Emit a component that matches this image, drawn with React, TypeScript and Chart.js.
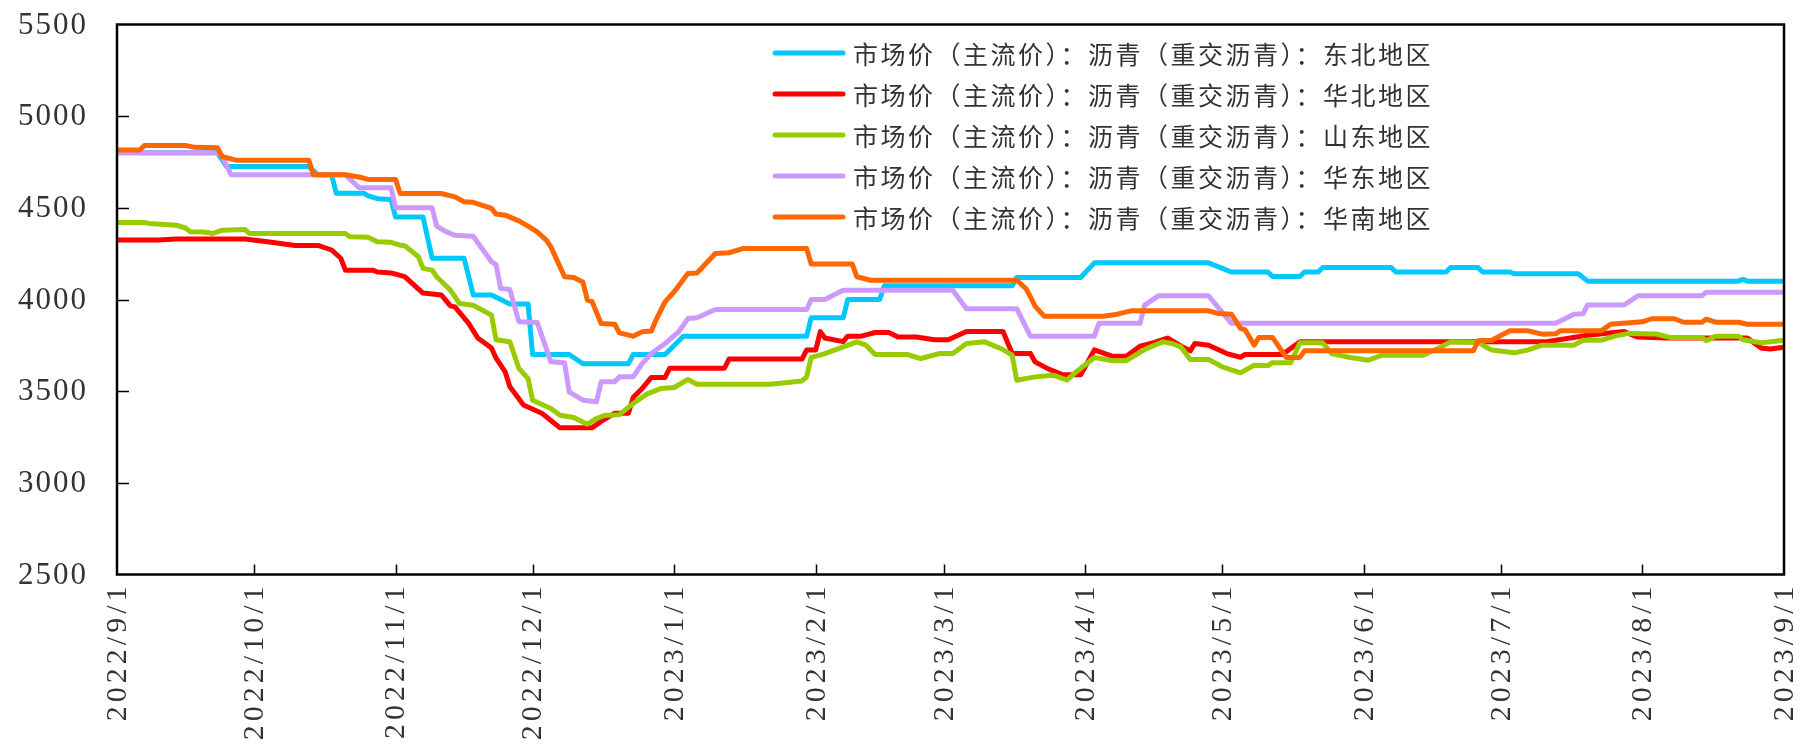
import React, { useEffect, useRef } from "react";
import { Chart, registerables } from "chart.js";

Chart.register(...registerables);

// x values are days since 2022/9/1, y values are prices (元/吨)
const START_DATE = "2022/9/1";

const monthTickLabels = [
  "2022/9/1", "2022/10/1", "2022/11/1", "2022/12/1", "2023/1/1", "2023/2/1",
  "2023/3/1", "2023/4/1", "2023/5/1", "2023/6/1", "2023/7/1", "2023/8/1", "2023/9/1",
];

const yTickValues = [2500, 3000, 3500, 4000, 4500, 5000, 5500];

const seriesNames = [
  "市场价（主流价）：沥青（重交沥青）：东北地区",
  "市场价（主流价）：沥青（重交沥青）：华北地区",
  "市场价（主流价）：沥青（重交沥青）：山东地区",
  "市场价（主流价）：沥青（重交沥青）：华东地区",
  "市场价（主流价）：沥青（重交沥青）：华南地区",
];

const seriesColors = ["#00C8FA", "#FF0000", "#99CC00", "#CC99FF", "#FF6600"];

const dongbei: [number, number][] = [
  [0, 4800], [22, 4800], [24, 4725], [42, 4725], [44, 4680], [47, 4680], [48, 4580], [54, 4580],
  [55, 4565], [57, 4550], [60, 4545], [61, 4450], [67, 4450], [69, 4225], [76, 4225], [78, 4025],
  [82, 4025], [86, 3975], [90, 3975], [91, 3700], [99, 3700], [102, 3650], [112, 3650], [113, 3700],
  [120, 3700], [124, 3800], [151, 3800], [152, 3900], [159, 3900], [160, 4000], [167, 4000],
  [168, 4075], [196, 4075], [197, 4120], [211, 4120], [214, 4200], [239, 4200], [244, 4150],
  [252, 4150], [253, 4125], [259, 4125], [260, 4150], [263, 4150], [264, 4175], [279, 4175],
  [280, 4150], [291, 4150], [292, 4175], [298, 4175], [299, 4150], [305, 4150], [306, 4140],
  [320, 4140], [322, 4100], [355, 4100], [356, 4110], [357, 4100], [365, 4100],
];

const huabei: [number, number][] = [
  [0, 4325], [9, 4325], [13, 4330], [28, 4330], [33, 4315], [39, 4295], [44, 4295], [47, 4270],
  [49, 4225], [50, 4160], [56, 4160], [57, 4150], [60, 4145], [63, 4125], [65, 4080], [67, 4035],
  [71, 4025], [73, 3965], [74, 3960], [77, 3870], [79, 3790], [82, 3735], [83, 3680], [85, 3605],
  [86, 3525], [89, 3425], [93, 3380], [95, 3340], [97, 3300], [104, 3300], [106, 3335], [109, 3380],
  [112, 3380], [113, 3465], [115, 3515], [117, 3575], [120, 3575], [121, 3625], [133, 3625],
  [134, 3675], [150, 3675], [151, 3725], [153, 3725], [154, 3825], [155, 3790], [159, 3770],
  [160, 3800], [163, 3800], [166, 3820], [169, 3820], [171, 3795], [175, 3795], [179, 3780],
  [182, 3780], [186, 3825], [194, 3825], [196, 3705], [200, 3705], [201, 3660], [204, 3620],
  [207, 3590], [211, 3590], [214, 3725], [218, 3690], [221, 3690], [224, 3745], [227, 3765],
  [230, 3790], [233, 3745], [235, 3720], [236, 3760], [239, 3750], [243, 3705], [246, 3685],
  [247, 3700], [255, 3700], [256, 3715], [259, 3770], [313, 3770], [322, 3805], [330, 3825],
  [333, 3795], [339, 3790], [357, 3790], [360, 3735], [362, 3730], [365, 3740],
];

const shandong: [number, number][] = [
  [0, 4420], [6, 4420], [7, 4415], [13, 4405], [15, 4390], [16, 4370], [19, 4368], [21, 4360],
  [23, 4378], [28, 4382], [29, 4360], [50, 4360], [51, 4342], [55, 4340], [57, 4315], [60, 4312],
  [62, 4296], [63, 4293], [66, 4233], [67, 4170], [69, 4160], [70, 4124], [73, 4051], [75, 3978],
  [78, 3969], [82, 3915], [83, 3780], [86, 3770], [88, 3624], [90, 3569], [91, 3451], [95, 3405],
  [97, 3369], [100, 3356], [103, 3320], [105, 3351], [107, 3369], [110, 3372], [113, 3433],
  [116, 3484], [119, 3514], [122, 3520], [125, 3564], [127, 3538], [143, 3538], [150, 3556],
  [151, 3578], [152, 3684], [155, 3705], [159, 3742], [162, 3769], [164, 3751], [166, 3700],
  [173, 3700], [176, 3678], [180, 3705], [183, 3705], [186, 3760], [190, 3769], [194, 3727],
  [196, 3696], [197, 3560], [201, 3578], [205, 3587], [208, 3560], [210, 3605], [214, 3684],
  [218, 3666], [221, 3666], [225, 3727], [229, 3769], [231, 3760], [233, 3740], [235, 3673],
  [239, 3673], [242, 3633], [246, 3600], [249, 3642], [252, 3640], [253, 3655], [257, 3655],
  [259, 3764], [264, 3764], [266, 3705], [270, 3684], [274, 3669], [277, 3696], [286, 3696],
  [290, 3742], [292, 3769], [298, 3766], [301, 3724], [306, 3709], [309, 3725], [312, 3751],
  [319, 3751], [321, 3778], [325, 3778], [328, 3800], [331, 3815], [337, 3812], [340, 3793],
  [347, 3793], [348, 3775], [350, 3800], [355, 3800], [356, 3780], [360, 3764], [365, 3778],
];

const huadong: [number, number][] = [
  [0, 4800], [22, 4800], [23, 4780], [25, 4680], [50, 4680], [53, 4610], [60, 4610], [61, 4500],
  [69, 4500], [70, 4400], [72, 4370], [74, 4350], [78, 4345], [82, 4206], [83, 4190], [84, 4060],
  [86, 4055], [88, 3878], [92, 3875], [95, 3660], [98, 3655], [99, 3496], [102, 3451], [105, 3442],
  [106, 3551], [109, 3551], [110, 3578], [113, 3578], [115, 3651], [117, 3705], [120, 3760],
  [123, 3824], [125, 3896], [127, 3900], [131, 3945], [151, 3945], [152, 4000], [155, 4000],
  [159, 4050], [183, 4050], [186, 3950], [197, 3950], [200, 3800], [214, 3800], [215, 3870],
  [224, 3870], [225, 3969], [228, 4020], [239, 4020], [244, 3870], [315, 3870], [319, 3920],
  [321, 3922], [322, 3970], [330, 3970], [333, 4020], [347, 4020], [348, 4040], [365, 4040],
];

const huanan: [number, number][] = [
  [0, 4815], [5, 4815], [6, 4840], [15, 4840], [17, 4830], [22, 4828], [23, 4780], [26, 4760],
  [42, 4760], [43, 4680], [50, 4680], [53, 4668], [55, 4655], [61, 4655], [62, 4578], [71, 4578],
  [74, 4560], [76, 4533], [78, 4530], [82, 4497], [83, 4466], [85, 4460], [88, 4429], [90, 4400],
  [92, 4369], [94, 4324], [95, 4287], [97, 4178], [98, 4124], [100, 4120], [102, 4096], [103, 3996],
  [104, 3990], [106, 3869], [109, 3865], [110, 3818], [113, 3800], [115, 3824], [117, 3828],
  [118, 3887], [120, 3987], [122, 4042], [125, 4142], [127, 4145], [131, 4251], [134, 4255],
  [137, 4278], [151, 4278], [152, 4193], [161, 4193], [162, 4124], [165, 4105], [197, 4105],
  [199, 4060], [200, 4015], [201, 3964], [203, 3909], [216, 3909], [219, 3920], [222, 3938],
  [239, 3938], [241, 3924], [244, 3920], [246, 3842], [247, 3835], [249, 3751], [250, 3793],
  [253, 3793], [256, 3684], [259, 3684], [260, 3720], [297, 3720], [298, 3775], [301, 3778],
  [305, 3829], [309, 3829], [312, 3811], [315, 3813], [316, 3829], [325, 3829], [327, 3865],
  [334, 3878], [336, 3895], [341, 3895], [343, 3876], [347, 3876], [348, 3893], [350, 3876],
  [355, 3876], [357, 3865], [365, 3865],
];

const seriesData = [dongbei, huabei, shandong, huadong, huanan];

function dayOffset(label: string): number {
  const [y, m, d] = label.split("/").map(Number);
  const [sy, sm, sd] = START_DATE.split("/").map(Number);
  return Math.round((Date.UTC(y, m - 1, d) - Date.UTC(sy, sm - 1, sd)) / 86400000);
}

const CANVAS_W = 1786;
const CANVAS_H = 738;
const LEGEND_TEXT_WIDTH = 580;

const decorPlugin = {
  id: "decor",
  afterDraw(chart: any) {
    const { ctx, chartArea } = chart;
    const xs = chart.scales.x;
    const ys = chart.scales.y;
    const { left, right, top, bottom } = chartArea;
    ctx.save();
    // frame
    ctx.strokeStyle = "#000";
    ctx.lineWidth = 2.5;
    ctx.strokeRect(left, top, right - left, bottom - top);
    // inner ticks
    ctx.lineWidth = 1.5;
    ctx.beginPath();
    yTickValues.forEach((v, i) => {
      if (i === 0 || i === yTickValues.length - 1) return;
      const y = Math.round(ys.getPixelForValue(v)) + 0.5;
      ctx.moveTo(left, y);
      ctx.lineTo(left + 12, y);
    });
    monthTickLabels.forEach((lab, i) => {
      if (i === 0 || i === monthTickLabels.length - 1) return;
      const x = Math.round(xs.getPixelForValue(dayOffset(lab))) + 0.5;
      ctx.moveTo(x, bottom);
      ctx.lineTo(x, bottom - 10);
    });
    ctx.stroke();

    // y labels
    ctx.fillStyle = "#333";
    ctx.font = "31px 'Liberation Serif', serif";
    (ctx as any).letterSpacing = "2px";
    ctx.textAlign = "right";
    ctx.textBaseline = "middle";
    yTickValues.forEach((v) => {
      ctx.fillText(String(v), left - 29, ys.getPixelForValue(v) + 1);
    });

    // x labels (rotated)
    (ctx as any).letterSpacing = "4px";
    ctx.font = "30px 'Liberation Serif', serif";
    monthTickLabels.forEach((lab) => {
      const x = xs.getPixelForValue(dayOffset(lab));
      ctx.save();
      ctx.translate(x + 1, bottom + 8);
      ctx.rotate(-Math.PI / 2);
      ctx.textAlign = "right";
      ctx.textBaseline = "middle";
      ctx.fillText(lab, 0, 0);
      ctx.restore();
    });

    // legend
    (ctx as any).letterSpacing = "0px";
    ctx.font = "25px 'Noto Sans CJK SC', sans-serif";
    const natural = ctx.measureText(seriesNames[0]).width;
    const spacing = Math.max(0, (LEGEND_TEXT_WIDTH - natural) / seriesNames[0].length);
    (ctx as any).letterSpacing = spacing.toFixed(2) + "px";
    ctx.textAlign = "left";
    ctx.textBaseline = "middle";
    const lx0 = 767;
    const lx1 = 835;
    const ly0 = 45;
    const lstep = 41;
    seriesNames.forEach((name, i) => {
      const y = ly0 + i * lstep;
      ctx.strokeStyle = seriesColors[i];
      ctx.lineWidth = 5;
      ctx.lineCap = "round";
      ctx.beginPath();
      ctx.moveTo(lx0, y);
      ctx.lineTo(lx1, y);
      ctx.stroke();
      ctx.fillStyle = "#333";
      ctx.fillText(name, 845, y + 1);
    });
    ctx.restore();
  },
};

export default function App() {
  const ref = useRef<HTMLCanvasElement | null>(null);
  useEffect(() => {
    if (!ref.current) return;
    const chart = new Chart(ref.current, {
      type: "line",
      data: {
        datasets: seriesData.map((pts, i) => ({
          label: seriesNames[i],
          data: pts.map(([d, v]) => ({ x: d, y: v })),
          borderColor: seriesColors[i],
          backgroundColor: seriesColors[i],
          borderWidth: 5,
          pointRadius: 0,
          tension: 0,
          borderJoinStyle: "round" as const,
          borderCapStyle: "round" as const,
          order: seriesData.length - i,
        })),
      },
      options: {
        responsive: false,
        animation: false,
        layout: { padding: { left: 109, right: 10, top: 16.5, bottom: 171.5 } },
        plugins: { legend: { display: false }, tooltip: { enabled: false } },
        scales: {
          x: {
            type: "linear",
            display: false,
            min: dayOffset(monthTickLabels[0]),
            max: dayOffset(monthTickLabels[monthTickLabels.length - 1]),
          },
          y: {
            type: "linear",
            display: false,
            min: yTickValues[0],
            max: yTickValues[yTickValues.length - 1],
          },
        },
      },
      plugins: [decorPlugin],
    });
    return () => chart.destroy();
  }, []);
  return (
    <div style={{ width: CANVAS_W, height: CANVAS_H }}>
      <canvas
        ref={ref}
        width={CANVAS_W}
        height={CANVAS_H}
        style={{ display: "block", width: CANVAS_W, height: CANVAS_H }}
      />
    </div>
  );
}
